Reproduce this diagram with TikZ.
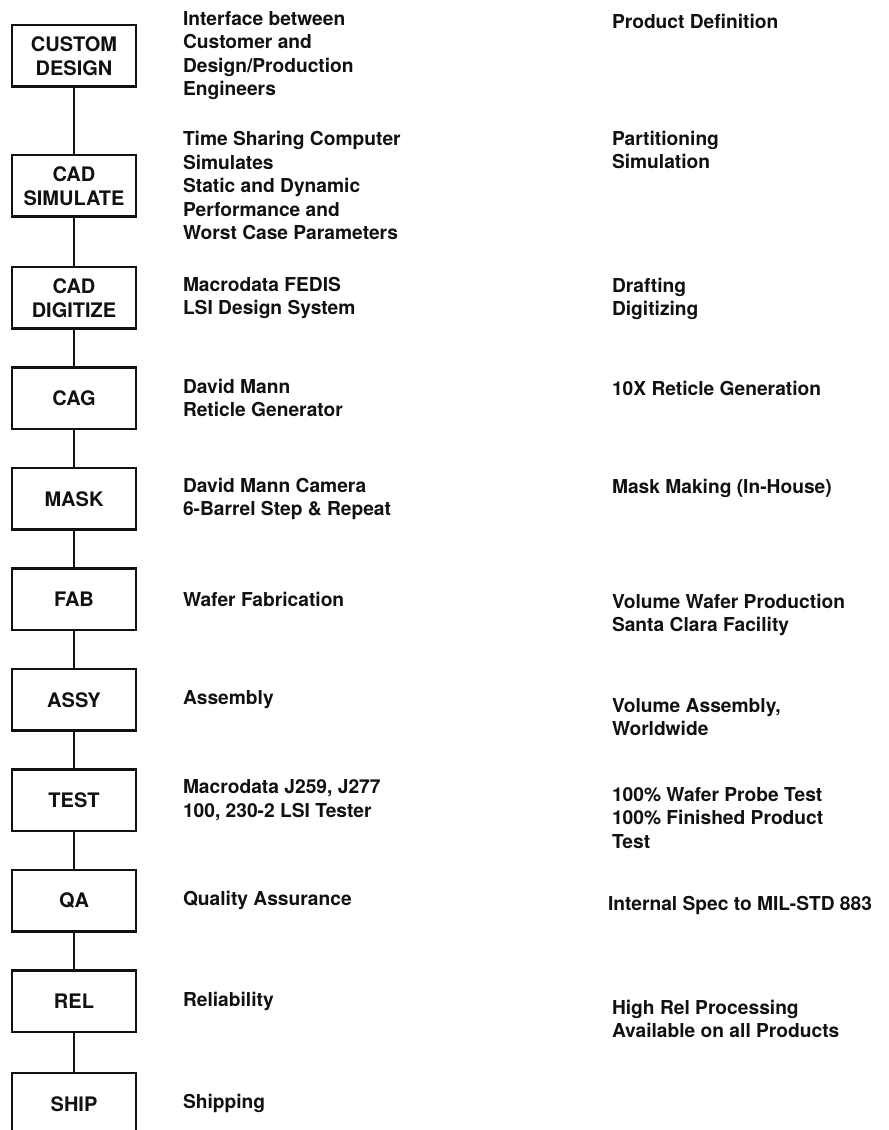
\documentclass[tikz,border=0pt]{standalone}
\usepackage{fontspec}
\setsansfont{TeX Gyre Heros}
\usepackage{tikz}
\usetikzlibrary{positioning}
\definecolor{ink}{HTML}{111111}
\tikzset{
  pbox/.style={draw=ink, line width=1.4pt, outer sep=0pt, minimum width=62pt, minimum height=30.75pt, align=center, inner sep=0pt, text=ink, font=\sffamily\bfseries\fontsize{10}{12}\selectfont},
  plink/.style={draw=ink, line width=1.4pt},
  pdesc/.style={anchor=west, align=left, inner sep=0pt, outer sep=0pt, text=ink, font=\sffamily\bfseries\fontsize{9.6}{11.7}\selectfont},
  pnote/.style={pdesc},
}

\begin{document}
\begin{tikzpicture}[x=0.5pt, y=-0.5pt, node distance=19.5pt and 23.5pt]
  \useasboundingbox (0,0) rectangle (889,1130);
  \clip (0,0) rectangle (889,1130);
  % flow boxes
  \node[pbox] (cust) at (74,55.75) {CUSTOM\\DESIGN};
  \node[pbox, below=34.25pt of cust] (sim) {CAD\\SIMULATE};
  \node[pbox, below=25.25pt of sim] (dig) {CAD\\DIGITIZE};
  \node[pbox, below=of dig] (cag) {CAG};
  \node[pbox, below=of cag] (mask) {MASK};
  \node[pbox, below=of mask] (fab) {FAB};
  \node[pbox, below=of fab] (assy) {ASSY};
  \node[pbox, below=of assy] (test) {TEST};
  \node[pbox, below=of test] (qa) {QA};
  \node[pbox, below=of qa] (rel) {REL};
  \node[pbox, below=20.5pt of rel] (ship) {SHIP};
  \foreach \a/\b in {cust/sim, sim/dig, dig/cag, cag/mask, mask/fab, fab/assy, assy/test, test/qa, qa/rel, rel/ship}
    \draw[plink] (\a) -- (\b);
  % what each step uses
  \node[pdesc, right=of cust] (dcust) {Interface between\\Customer and\\Design/Production\\Engineers};
  \node[pdesc, right=of sim] (dsim) {Time Sharing Computer\\Simulates\\Static and Dynamic\\Performance and\\Worst Case Parameters};
  \node[pdesc, right=of dig] (ddig) {Macrodata FEDIS\\LSI Design System};
  \node[pdesc, right=of cag] (dcag) {David Mann\\Reticle Generator};
  \node[pdesc, right=of mask] (dmask) {David Mann Camera\\6-Barrel Step \& Repeat};
  \node[pdesc, right=of fab] (dfab) {Wafer Fabrication};
  \node[pdesc, right=of assy] (dassy) {Assembly};
  \node[pdesc, right=of test] (dtest) {Macrodata J259, J277\\100, 230-2 LSI Tester};
  \node[pdesc, right=of qa] (dqa) {Quality Assurance};
  \node[pdesc, right=of rel] (drel) {Reliability};
  \node[pdesc, right=of ship] (dship) {Shipping};
  % what it delivers
  \node[pnote] (ncust) at (612,21) {Product Definition};
  \node[pnote] (nsim) at (612,150) {Partitioning\\Simulation};
  \node[pnote] (ndig) at (612,299) {Drafting\\Digitizing};
  \node[pnote] (ncag) at (612,388) {10X Reticle Generation};
  \node[pnote] (nmask) at (612,488) {Mask Making (In-House)};
  \node[pnote] (nfab) at (612,615) {Volume Wafer Production\\Santa Clara Facility};
  \node[pnote] (nassy) at (612,717) {Volume Assembly,\\Worldwide};
  \node[pnote] (ntest) at (612,818) {100\% Wafer Probe Test\\100\% Finished Product\\Test};
  \node[pnote] (nqa) at (608,905) {Internal Spec to MIL-STD 883};
  \node[pnote] (nrel) at (612,1019) {High Rel Processing\\Available on all Products};
\end{tikzpicture}
\end{document}
